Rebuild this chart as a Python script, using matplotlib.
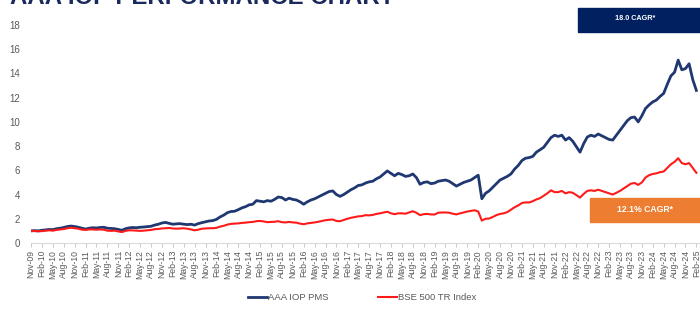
import numpy as np
import pandas as pd
import matplotlib
matplotlib.use("Agg")
import matplotlib.pyplot as plt

# monthly values, Nov-09 .. Feb-25 (growth of 1 unit)
aaa_iop_pms = [
    1.00, 1.02,
    1.00, 1.05, 1.08, 1.12, 1.10, 1.18, 1.22, 1.28, 1.36, 1.40, 1.36, 1.30,
    1.22, 1.15, 1.22, 1.26, 1.24, 1.28, 1.30, 1.22, 1.20, 1.18, 1.12, 1.05,
    1.18, 1.25, 1.28, 1.26, 1.30, 1.32, 1.35, 1.38, 1.48, 1.55, 1.65, 1.70,
    1.62, 1.55, 1.58, 1.60, 1.55, 1.52, 1.55, 1.48, 1.60, 1.68, 1.75, 1.82,
    1.85, 1.95, 2.15, 2.30, 2.50, 2.60, 2.62, 2.75, 2.90, 3.00, 3.15, 3.20,
    3.50, 3.45, 3.40, 3.50, 3.45, 3.60, 3.80, 3.75, 3.55, 3.70, 3.60, 3.55,
    3.40, 3.20, 3.40, 3.55, 3.65, 3.80, 3.95, 4.10, 4.25, 4.30, 4.00, 3.85,
    4.00, 4.20, 4.40, 4.55, 4.75, 4.80, 4.95, 5.05, 5.10, 5.30, 5.45, 5.70,
    5.95, 5.75, 5.55, 5.75, 5.65, 5.50, 5.55, 5.70, 5.40, 4.85, 5.00, 5.05,
    4.90, 4.95, 5.10, 5.15, 5.20, 5.10, 4.90, 4.70, 4.85, 5.00, 5.10, 5.20,
    5.40, 5.60, 3.65, 4.10, 4.30, 4.60, 4.90, 5.20, 5.35, 5.50, 5.70, 6.10,
    6.40, 6.80, 7.00, 7.05, 7.15, 7.50, 7.70, 7.90, 8.30, 8.70, 8.90, 8.80,
    8.90, 8.50, 8.70, 8.40, 7.95, 7.50, 8.20, 8.75, 8.90, 8.80, 9.00, 8.85,
    8.70, 8.55, 8.50, 8.90, 9.30, 9.70, 10.10, 10.35, 10.40, 10.00, 10.50, 11.10,
    11.40, 11.65, 11.80, 12.10, 12.35, 13.10, 13.80, 14.10, 15.10, 14.30, 14.40, 14.80,
    13.50, 12.60,
]
bse_500_tr = [
    1.00, 0.99,
    0.97, 0.98, 1.02, 1.05, 1.02, 1.08, 1.12, 1.15, 1.22, 1.26, 1.22, 1.18,
    1.10, 1.08, 1.12, 1.12, 1.10, 1.12, 1.10, 1.02, 1.00, 1.02, 0.96, 0.90,
    1.00, 1.05, 1.04, 1.02, 1.00, 1.02, 1.05, 1.08, 1.14, 1.16, 1.20, 1.22,
    1.24, 1.20, 1.18, 1.20, 1.22, 1.18, 1.12, 1.05, 1.10, 1.18, 1.20, 1.22,
    1.22, 1.25, 1.35, 1.42, 1.52, 1.58, 1.60, 1.62, 1.66, 1.68, 1.72, 1.74,
    1.80, 1.82, 1.78, 1.72, 1.74, 1.75, 1.80, 1.72, 1.70, 1.74, 1.70, 1.68,
    1.60, 1.55, 1.62, 1.66, 1.70, 1.75, 1.82, 1.88, 1.92, 1.94, 1.82, 1.80,
    1.90, 2.00, 2.08, 2.14, 2.20, 2.22, 2.30, 2.28, 2.32, 2.40, 2.45, 2.52,
    2.58, 2.45, 2.38, 2.45, 2.45, 2.42, 2.52, 2.62, 2.50, 2.30, 2.38, 2.40,
    2.36, 2.35, 2.50, 2.52, 2.52, 2.50, 2.42, 2.36, 2.45, 2.52, 2.60, 2.65,
    2.70, 2.60, 1.85, 2.00, 2.02, 2.15, 2.30, 2.40, 2.45, 2.55, 2.75, 2.95,
    3.10, 3.30, 3.35, 3.35, 3.45, 3.60, 3.70, 3.90, 4.10, 4.35, 4.20, 4.20,
    4.30, 4.10, 4.20, 4.15, 3.95, 3.75, 4.05, 4.30, 4.35, 4.30, 4.40, 4.30,
    4.20, 4.10, 4.00, 4.15, 4.30, 4.50, 4.70, 4.90, 4.95, 4.80, 5.00, 5.40,
    5.60, 5.70, 5.75, 5.85, 5.90, 6.20, 6.50, 6.70, 7.00, 6.60, 6.50, 6.60,
    6.20, 5.80,
]
series_names = ["AAA IOP PMS", "BSE 500 TR Index"]
cagr_labels = ["18.0 CAGR*", "12.1% CAGR*"]
title = "AAA IOP PERFORMANCE CHART"

months = pd.date_range("2009-11-01", periods=len(aaa_iop_pms), freq="MS")
tick_pos = np.arange(0, len(months), 3)
tick_labels = [d.strftime("%b-%y") for d in months[tick_pos]]

plt.rcParams["font.family"] = ["Liberation Sans", "DejaVu Sans"]
grey = "#595959"
navy = "#1f3872"
red = "#ff1a1a"

fig = plt.figure(figsize=(7.0, 3.11), dpi=100)
ax = fig.add_axes([31/700, 68/311, 669/700, 218/311])

x = np.arange(len(months))
ax.plot(x, aaa_iop_pms, color=navy, linewidth=2.0, label=series_names[0])
ax.plot(x, bse_500_tr, color=red, linewidth=1.5, label=series_names[1])

ax.set_xlim(0, len(months))
ax.set_ylim(0, 18)
ax.set_yticks(np.arange(0, 19, 2))
ax.set_xticks(tick_pos)
ax.set_xticklabels(tick_labels, rotation=90, fontsize=6.2, color=grey)
ax.tick_params(axis="y", length=0, pad=8, labelsize=7, labelcolor=grey)
ax.tick_params(axis="x", length=3, width=0.6, color="#bfbfbf", pad=2)
for s in ["top", "right", "left"]:
    ax.spines[s].set_visible(False)
ax.spines["bottom"].set_color("#d9d9d9")
ax.spines["bottom"].set_linewidth(0.8)

# title (cut at top of the image, as in the source)
fig.text(10/700, 1 - 4.5/311, title, fontsize=17.3, fontweight="bold",
         color="#1b2a5e", ha="left", va="baseline")

# CAGR boxes
fig.patches.append(plt.Rectangle((578/700, 1 - 32/311), 130/700, 24/311,
                                 transform=fig.transFigure, color="#002060", zorder=5))
fig.text(635/700, 1 - 19/311, cagr_labels[0], fontsize=5.2, fontweight="bold",
         color="white", ha="center", va="center", zorder=6)
fig.patches.append(plt.Rectangle((590/700, 1 - 222/311), 120/700, 24/311,
                                 transform=fig.transFigure, color="#ed7d31", zorder=5))
fig.text(645/700, 1 - 209/311, cagr_labels[1], fontsize=6.2, fontweight="bold",
         color="white", ha="center", va="center", zorder=6)

fig.legend(loc="center", bbox_to_anchor=(362/700, 1 - 298/311), ncol=2,
           frameon=False, fontsize=6.8, labelcolor=grey, handlelength=2.0,
           handletextpad=0.15, columnspacing=5.2)

fig.savefig("out.png", dpi=100)
